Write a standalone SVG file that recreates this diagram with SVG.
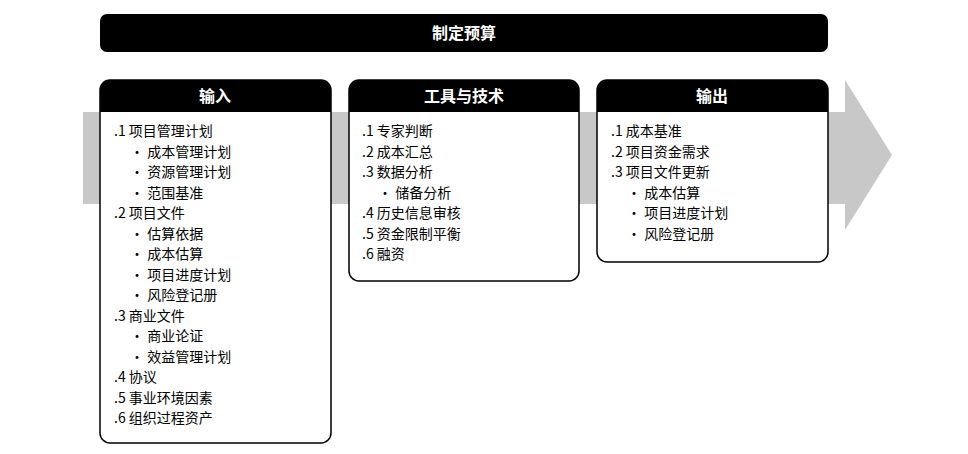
<svg xmlns="http://www.w3.org/2000/svg" width="968" height="454" viewBox="0 0 968 454">
<style>
text{font-family:"Noto Sans CJK SC","Liberation Sans",sans-serif;font-size:14px;fill:#000}
.h{fill:#fff;font-weight:bold;font-size:16px;text-anchor:middle}
.box{fill:#fff;stroke:#000;stroke-width:1.5}
</style>
<polygon points="83,112 845,112 845,80 892,155 845,230 845,204 83,204" fill="#c8c8c8"/>
<g id="title"><rect x="100" y="14" width="728" height="38" rx="7" fill="#000"/><text class="h" x="464" y="39">制定预算</text></g>
<g id="inputs">
<rect class="box" x="100" y="80" width="231" height="363" rx="10"/>
<path d="M100,112 V90 a10,10 0 0 1 10,-10 H321 a10,10 0 0 1 10,10 V112 Z" fill="#000"/>
<text class="h" x="215" y="102">输入</text>
<text x="114" y="136">.1  项目管理计划</text>
<text x="130" y="157">•  成本管理计划</text>
<text x="130" y="177">•  资源管理计划</text>
<text x="130" y="198">•  范围基准</text>
<text x="114" y="218">.2  项目文件</text>
<text x="130" y="239">•  估算依据</text>
<text x="130" y="259">•  成本估算</text>
<text x="130" y="280">•  项目进度计划</text>
<text x="130" y="300">•  风险登记册</text>
<text x="114" y="321">.3  商业文件</text>
<text x="130" y="341">•  商业论证</text>
<text x="130" y="362">•  效益管理计划</text>
<text x="114" y="382">.4  协议</text>
<text x="114" y="403">.5  事业环境因素</text>
<text x="114" y="423">.6  组织过程资产</text>
</g>
<g id="tools">
<rect class="box" x="349" y="80" width="230" height="201" rx="10"/>
<path d="M349,112 V90 a10,10 0 0 1 10,-10 H569 a10,10 0 0 1 10,10 V112 Z" fill="#000"/>
<text class="h" x="464" y="102">工具与技术</text>
<text x="362" y="136">.1  专家判断</text>
<text x="362" y="157">.2  成本汇总</text>
<text x="362" y="177">.3  数据分析</text>
<text x="378" y="198">•  储备分析</text>
<text x="362" y="218">.4  历史信息审核</text>
<text x="362" y="239">.5  资金限制平衡</text>
<text x="362" y="259">.6  融资</text>
</g>
<g id="outputs">
<rect class="box" x="597" y="80" width="231" height="182" rx="10"/>
<path d="M597,112 V90 a10,10 0 0 1 10,-10 H818 a10,10 0 0 1 10,10 V112 Z" fill="#000"/>
<text class="h" x="712" y="102">输出</text>
<text x="611" y="136">.1  成本基准</text>
<text x="611" y="157">.2  项目资金需求</text>
<text x="611" y="177">.3  项目文件更新</text>
<text x="627" y="198">•  成本估算</text>
<text x="627" y="218">•  项目进度计划</text>
<text x="627" y="239">•  风险登记册</text>
</g>
<g id="connectors"></g>
</svg>
